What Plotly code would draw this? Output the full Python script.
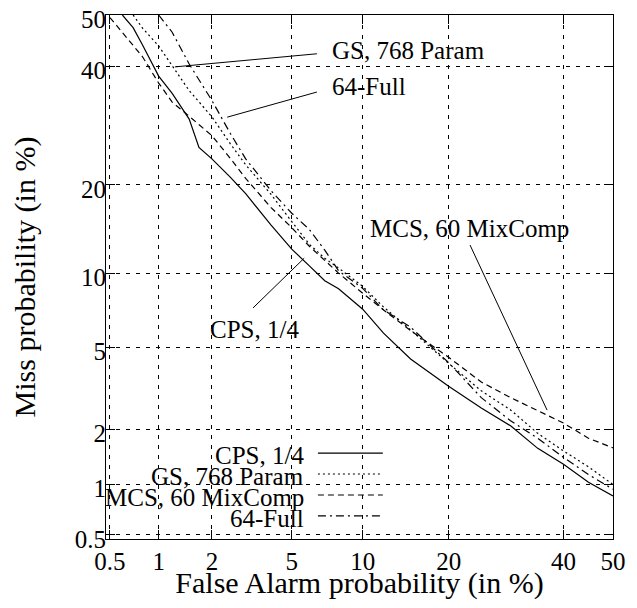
"""DET curves (probit-scaled axes) for four speaker-verification systems."""

from statistics import NormalDist

import plotly.graph_objects as go

FONT = "Liberation Serif, Times New Roman, serif"

# values, in %
fa_cps = [0.6, 0.7, 0.8, 1, 1.2, 1.5, 1.7, 2, 2.5, 3, 4, 5, 6, 7, 8, 10, 12, 15, 20, 25, 30, 35, 40, 45, 50]
miss_cps = [50, 47.5, 44.1, 38.1, 34.9, 30.3, 25.6, 23.8, 21.1, 18.8, 14.9, 12.3, 10.7, 9.4, 8.75, 7.25, 5.75,
            4.42, 3.29, 2.58, 2.09, 1.59, 1.3, 1.03, 0.86]

fa_gs = [0.7, 0.8, 1, 1.2, 1.5, 2, 2.5, 3, 4, 5, 6, 7, 8, 10, 12, 15, 20, 25, 30, 35, 40, 45, 50]
miss_gs = [50, 47.4, 43.9, 40.0, 35.4, 30.7, 26.2, 22.9, 18.7, 15.3, 12.8, 11.4, 10.5, 8.94, 7.4, 5.94, 4.22,
           3.13, 2.52, 1.91, 1.54, 1.26, 1.0]

fa_mcs = [0.5, 0.6, 0.7, 0.8, 1, 1.2, 1.5, 2, 2.5, 3, 4, 5, 6, 7, 8, 10, 12, 15, 20, 25, 30, 35, 40, 45, 50]
miss_mcs = [49.5, 46.6, 44.1, 41.8, 36.8, 33.3, 30.8, 27.5, 23.9, 20.9, 17.0, 14.6, 12.6, 11.2, 10.05, 8.4, 7.2,
            5.9, 4.5, 3.45, 2.9, 2.5, 2.16, 1.8, 1.6]

fa_full = [1, 1.2, 1.5, 2, 2.5, 3, 4, 5, 6, 7, 8, 10, 12, 15, 20, 25, 30, 35, 40, 45, 50]
miss_full = [50, 46.6, 40.4, 33.6, 27.9, 23.8, 19.2, 16.3, 14.4, 12.2, 10.26, 8.78, 7.2, 6.1, 4.25, 2.9, 2.22,
             1.8, 1.42, 1.14, 0.94]

tick_pct = [0.5, 1, 2, 5, 10, 20, 40, 50]
tick_text = ["0.5", "1", "2", "5", "10", "20", "40", "50"]

series = [
    ("CPS, 1/4", fa_cps, miss_cps, "solid"),
    ("GS, 768 Param", fa_gs, miss_gs, "2px,3px"),
    ("MCS, 60 MixComp", fa_mcs, miss_mcs, "6px,4px"),
    ("64-Full", fa_full, miss_full, "8px,4px,2px,4px"),
]

_nd = NormalDist()


def probit(pct):
    return [_nd.inv_cdf(v / 100.0) for v in pct]


fig = go.Figure()
for name, fa, miss, dash in series:
    fig.add_trace(go.Scatter(x=probit(fa), y=probit(miss), mode="lines", name=name,
                             line=dict(color="black", width=1.2, dash=dash), showlegend=False))

# white legend block hides the grid behind it
fig.add_shape(type="rect", xref="paper", yref="paper", x0=0, x1=0.574, y0=0.015, y1=0.187,
              fillcolor="white", line=dict(width=0), layer="between")
legend_y = [0.164, 0.124, 0.084, 0.044]
for (name, _, _, dash), ly in zip(series, legend_y):
    fig.add_shape(type="line", xref="paper", yref="paper", x0=0.418, x1=0.546, y0=ly, y1=ly,
                  line=dict(color="black", width=1.2, dash=dash))
    fig.add_annotation(text=name, xref="paper", yref="paper", x=0.394, y=ly - 0.004,
                       xanchor="right", yanchor="middle", showarrow=False)

# callout labels with leader lines
callouts = [
    ("GS, 768 Param", 0.442, 0.933, (0.416, 0.926, 0.136, 0.901)),
    ("64-Full", 0.442, 0.863, (0.416, 0.853, 0.239, 0.805)),
    ("MCS, 60 MixComp", 0.517, 0.592, (0.718, 0.561, 0.870, 0.246)),
    ("CPS, 1/4", 0.201, 0.399, (0.391, 0.536, 0.290, 0.441)),
]
for text, tx, ty, (x0, y0, x1, y1) in callouts:
    fig.add_annotation(text=text, xref="paper", yref="paper", x=tx, y=ty,
                       xanchor="left", yanchor="middle", showarrow=False)
    fig.add_shape(type="line", xref="paper", yref="paper", x0=x0, y0=y0, x1=x1, y1=y1,
                  line=dict(color="black", width=1))

axis_style = dict(
    tickvals=probit(tick_pct), ticktext=tick_text, range=[-2.596, 0], automargin=False,
    showgrid=True, gridcolor="black", gridwidth=1, griddash="4px,6px",
    zeroline=False, showline=True, linecolor="black", linewidth=1, mirror="allticks",
    ticks="inside", ticklen=9, tickcolor="black", tickwidth=1, ticklabeloverflow="allow",
    tickfont=dict(size=25, color="black"),
)
fig.update_xaxes(**axis_style, title=dict(text="False Alarm probability (in %)", standoff=30),
                 ticklabelstandoff=0)
fig.update_yaxes(**axis_style, title=dict(text="Miss probability (in %)", standoff=37),
                 ticklabelstandoff=-6, ticklabelshift=4)

# page body adds an 8px margin, so the figure is 16px smaller and shifted
fig.update_layout(
    width=621, height=592,
    margin=dict(l=98, r=16, t=7, b=61),
    plot_bgcolor="white", paper_bgcolor="white",
    font=dict(family=FONT, size=25, color="black"),
    showlegend=False,
)

fig.write_html("out.html")
